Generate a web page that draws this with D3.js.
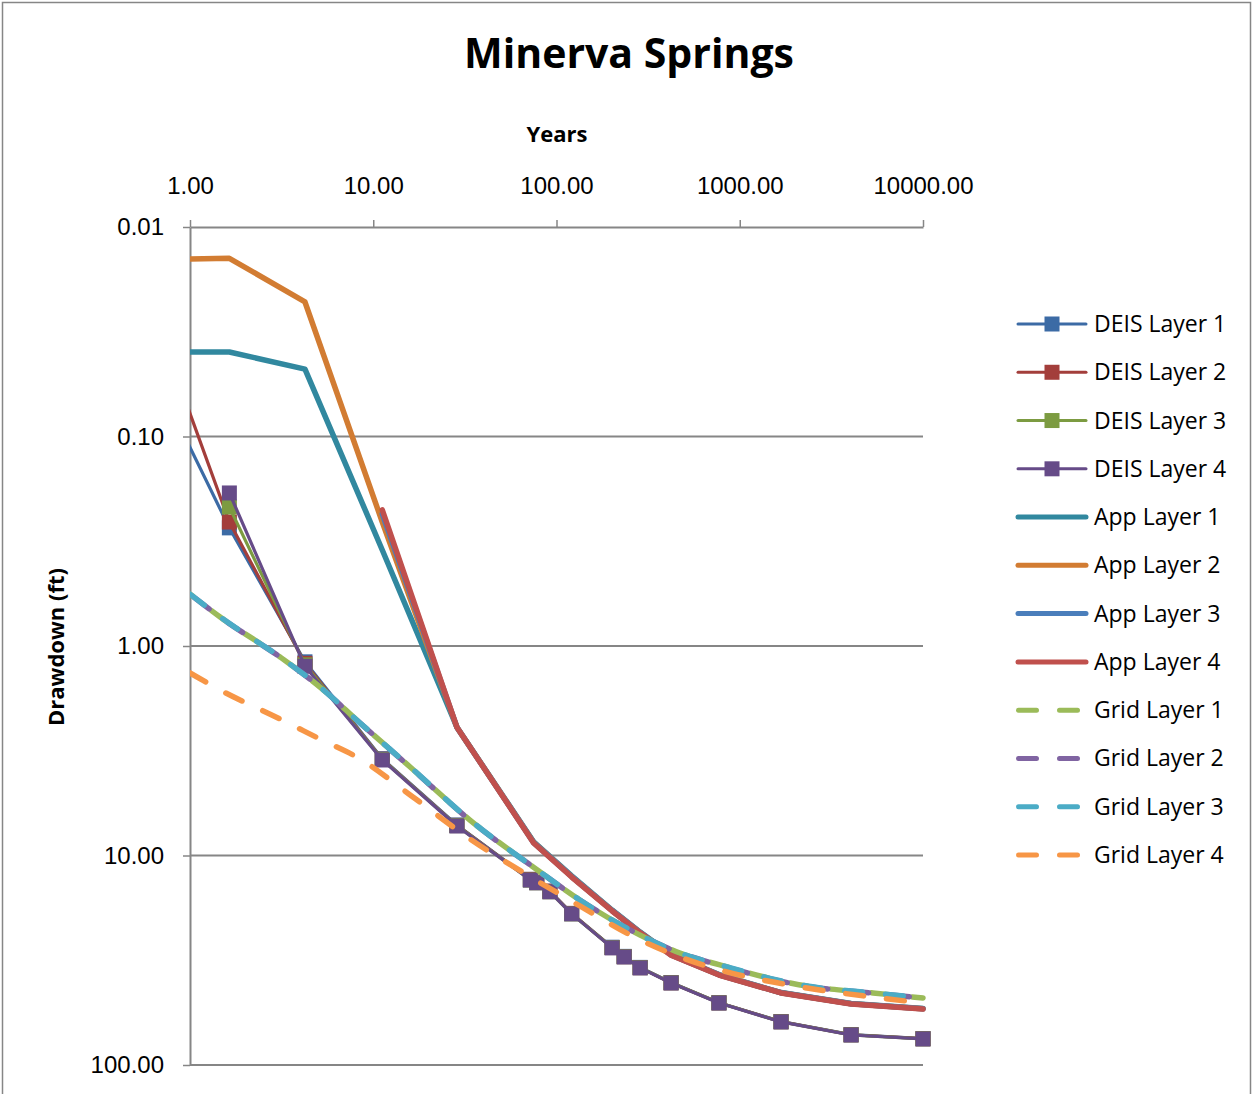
<!DOCTYPE html>
<html>
<head>
<meta charset="utf-8">
<script src="https://cdn.jsdelivr.net/npm/d3@7"></script>
<style>
  html, body { margin: 0; padding: 0; background: #fff; }
  svg { display: block; font-family: "Open Sans", "Liberation Sans", sans-serif; }
</style>
</head>
<body>
<svg id="chart" width="1254" height="1094"></svg>
<script>
// Minerva Springs: drawdown (ft) against elapsed time (years), both on log scales.

// ---- data ----
const xTickValues = [1, 10, 100, 1000, 10000];
const yTickValues = [0.01, 0.1, 1, 10, 100];

// DEIS model results (time points shared by the four layers)
const deisYears = [0.8, 1.64, 4.24, 11.2, 28.6, 72, 78, 92, 121, 201, 234, 286, 422, 770, 1680, 4050, 10000];
const deisLayer1 = [0.0755, 0.273, 1.19, 3.45, 7.15, 13.0, 13.4, 14.8, 18.9, 27.4, 30.3, 34.2, 40.4, 50.4, 62.0, 71.6, 74.8];
const deisLayer2 = [0.0453, 0.256, 1.21, 3.47, 7.18, 13.0, 13.4, 14.8, 18.9, 27.5, 30.4, 34.3, 40.5, 50.5, 62.1, 71.7, 74.9];
const deisLayer3 = [null, 0.217, 1.23, 3.48, 7.20, 13.1, 13.5, 14.9, 19.0, 27.5, 30.4, 34.3, 40.5, 50.5, 62.2, 71.8, 75.0];
const deisLayer4 = [null, 0.186, 1.25, 3.50, 7.23, 13.1, 13.5, 14.9, 19.0, 27.6, 30.5, 34.4, 40.6, 50.6, 62.3, 71.9, 75.1];

// Application model results
const appYears = [1, 1.64, 4.24, 11.2, 28.6, 75, 121, 201, 286, 422, 770, 1680, 4050, 10000];
const appLayer1 = [0.0395, 0.0395, 0.0477, 0.348, 2.44, 8.60, 12.5, 18.2, 23.2, 29.7, 37.0, 45.1, 50.9, 53.8];
const appLayer2 = [0.0142, 0.0141, 0.0228, 0.256, 2.44, 8.65, 12.6, 18.3, 23.3, 29.8, 37.1, 45.2, 51.0, 53.9];
const appLayer3 = [null, null, null, 0.234, 2.44, 8.68, 12.6, 18.3, 23.3, 29.8, 37.1, 45.2, 51.0, 53.9];
const appLayer4 = [null, null, null, 0.224, 2.44, 8.71, 12.67, 18.4, 23.4, 29.9, 37.2, 45.3, 51.1, 54.0];

// Regional grid model results
const gridYears = [1, 1.46, 3.10, 5.12, 8.47, 15.9, 33.7, 78.3, 134, 286, 472, 780, 2330, 5340, 10000];
const gridLayer1 = [0.565, 0.727, 1.128, 1.57, 2.33, 3.78, 6.77, 11.7, 16.3, 24.0, 29.2, 33.3, 42.0, 45.3, 47.9];
const gridLayer2 = [0.566, 0.728, 1.130, 1.57, 2.33, 3.79, 6.78, 11.7, 16.3, 24.0, 29.2, 33.4, 42.1, 45.4, 48.0];
const gridLayer3 = [0.565, 0.727, 1.129, 1.57, 2.33, 3.78, 6.77, 11.7, 16.3, 24.0, 29.2, 33.3, 42.0, 45.3, 47.9];
const gridLayer4 = [1.345, 1.622, 2.23, 2.78, 3.46, 5.14, 8.34, 13.2, 17.4, 25.3, 30.5, 35.2, 42.9, 47.4, 50.6];

const seriesNames = [
  "DEIS Layer 1", "DEIS Layer 2", "DEIS Layer 3", "DEIS Layer 4",
  "App Layer 1", "App Layer 2", "App Layer 3", "App Layer 4",
  "Grid Layer 1", "Grid Layer 2", "Grid Layer 3", "Grid Layer 4"
];

// ---- series table built from the arrays above ----
const zip = (xs, vs) => xs.map((t, i) => ({ t, v: vs[i] }));
const series = [
  { name: seriesNames[0], kind: "deis", color: "#3c6ba5", pts: zip(deisYears, deisLayer1) },
  { name: seriesNames[1], kind: "deis", color: "#a33e3b", pts: zip(deisYears, deisLayer2) },
  { name: seriesNames[2], kind: "deis", color: "#7c9b41", pts: zip(deisYears, deisLayer3) },
  { name: seriesNames[3], kind: "deis", color: "#664b88", pts: zip(deisYears, deisLayer4) },
  { name: seriesNames[4], kind: "app", color: "#31889f", pts: zip(appYears, appLayer1) },
  { name: seriesNames[5], kind: "app", color: "#d27c32", pts: zip(appYears, appLayer2) },
  { name: seriesNames[6], kind: "app", color: "#4a7ebb", pts: zip(appYears, appLayer3) },
  { name: seriesNames[7], kind: "app", color: "#c0504d", pts: zip(appYears, appLayer4) },
  { name: seriesNames[8], kind: "grid", color: "#9bbb59", dashOffset: 14, pts: zip(gridYears, gridLayer1) },
  { name: seriesNames[9], kind: "grid", color: "#8064a2", dashOffset: -6, pts: zip(gridYears, gridLayer2) },
  { name: seriesNames[10], kind: "grid", color: "#4bacc6", dashOffset: 0, pts: zip(gridYears, gridLayer3) },
  { name: seriesNames[11], kind: "grid", color: "#f79646", dashOffset: 0, pts: zip(gridYears, gridLayer4) }
];

// ---- layout ----
const svg = d3.select("#chart");
const plot = { left: 190, right: 923, top: 227, bottom: 1065 };
const axisColor = "#868686";

const x = d3.scaleLog().domain([1, 10000]).range([plot.left, plot.right]);
const y = d3.scaleLog().domain([0.01, 100]).range([plot.top, plot.bottom]);
const fmt = d3.format(".2f");

// outer chart frame
svg.append("rect")
  .attr("x", 2.5).attr("y", 2.5).attr("width", 1248).attr("height", 1110)
  .attr("fill", "#fff").attr("stroke", axisColor).attr("stroke-width", 1.5);

// title
svg.append("text")
  .attr("x", 629).attr("y", 68)
  .attr("text-anchor", "middle")
  .attr("font-weight", "bold").attr("font-size", 41)
  .text("Minerva Springs");

// horizontal gridlines
svg.append("g").selectAll("line")
  .data(yTickValues.slice(1))
  .join("line")
  .attr("x1", plot.left).attr("x2", plot.right)
  .attr("y1", d => y(d)).attr("y2", d => y(d))
  .attr("stroke", axisColor).attr("stroke-width", 2);

// top x axis
const gx = svg.append("g")
  .attr("transform", `translate(0,${plot.top})`)
  .call(d3.axisTop(x).tickValues(xTickValues).tickFormat(fmt).tickSize(7).tickSizeOuter(0).tickPadding(26));
gx.select(".domain").attr("stroke", axisColor).attr("stroke-width", 2);
gx.selectAll(".tick line").attr("stroke", axisColor).attr("stroke-width", 1.5);
gx.selectAll(".tick text").attr("font-size", 24).attr("fill", "#000").attr("font-family", null);

// left y axis
const gy = svg.append("g")
  .attr("transform", `translate(${plot.left},0)`)
  .call(d3.axisLeft(y).tickValues(yTickValues).tickFormat(fmt).tickSize(7).tickSizeOuter(0).tickPadding(19));
gy.select(".domain").attr("stroke", axisColor).attr("stroke-width", 2);
gy.selectAll(".tick line").attr("stroke", axisColor).attr("stroke-width", 1.5);
gy.selectAll(".tick text").attr("font-size", 24).attr("fill", "#000").attr("font-family", null);

// axis titles
svg.append("text")
  .attr("x", 557).attr("y", 142)
  .attr("text-anchor", "middle")
  .attr("font-weight", "bold").attr("font-size", 22)
  .text("Years");
svg.append("text")
  .attr("transform", "translate(64,647) rotate(-90)")
  .attr("text-anchor", "middle")
  .attr("font-weight", "bold").attr("font-size", 22)
  .text("Drawdown (ft)");

// ---- series ----
svg.append("clipPath").attr("id", "plot-clip")
  .append("rect")
  .attr("x", plot.left).attr("y", plot.top - 10)
  .attr("width", plot.right - plot.left + 10).attr("height", plot.bottom - plot.top + 20);

const lineGen = d3.line()
  .defined(d => d.v != null)
  .x(d => x(d.t)).y(d => y(d.v));
const smoothGen = d3.line()
  .defined(d => d.v != null)
  .curve(d3.curveMonotoneX)
  .x(d => x(d.t)).y(d => y(d.v));

const styleFor = {
  deis: { width: 3.2, dash: null },
  app: { width: 5.5, dash: null },
  grid: { width: 5.5, dash: "18 23" }
};

const layer = svg.append("g").attr("clip-path", "url(#plot-clip)");
series.forEach(s => {
  const st = styleFor[s.kind];
  const g = layer.append("g");
  g.append("path")
    .datum(s.pts)
    .attr("d", s.kind === "grid" ? smoothGen : lineGen)
    .attr("fill", "none")
    .attr("stroke", s.color)
    .attr("stroke-width", st.width)
    .attr("stroke-linejoin", "round")
    .attr("stroke-linecap", "round")
    .attr("stroke-dasharray", st.dash)
    .attr("stroke-dashoffset", s.dashOffset || 0);
  if (s.kind === "deis") {
    g.selectAll("rect")
      .data(s.pts.filter(d => d.v != null))
      .join("rect")
      .attr("x", d => x(d.t) - 7.5).attr("y", d => y(d.v) - 7.5)
      .attr("width", 15).attr("height", 15)
      .attr("fill", s.color);
  }
});

// ---- legend ----
const legend = svg.append("g").attr("transform", "translate(1016,324)");
const rowGap = 48.27;
series.forEach((s, i) => {
  const st = styleFor[s.kind];
  const row = legend.append("g").attr("transform", `translate(0,${i * rowGap})`);
  if (s.kind === "grid") {
    row.append("line")
      .attr("x1", 2.5).attr("x2", 70)
      .attr("stroke", s.color).attr("stroke-width", 5)
      .attr("stroke-linecap", "round")
      .attr("stroke-dasharray", st.dash);
  } else {
    row.append("line")
      .attr("x1", 2).attr("x2", 70)
      .attr("stroke", s.color).attr("stroke-width", s.kind === "app" ? 5 : 3)
      .attr("stroke-linecap", "round");
  }
  if (s.kind === "deis") {
    row.append("rect")
      .attr("x", 36 - 7.5).attr("y", -7.5)
      .attr("width", 15).attr("height", 15)
      .attr("fill", s.color);
  }
  row.append("text")
    .attr("x", 78).attr("y", 0).attr("dy", "0.35em")
    .attr("font-size", 23)
    .text(s.name);
});
</script>
</body>
</html>
